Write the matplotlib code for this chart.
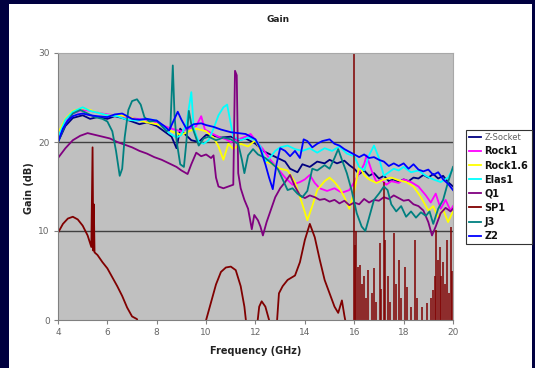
"""Gain vs frequency for eight probe/socket variants (Excel-style line chart)."""

import matplotlib
matplotlib.use("Agg")
import matplotlib.pyplot as plt
from matplotlib.patches import Rectangle

# ---- data (GHz, dB) ----
zsock_f = [4.0, 4.3, 4.6, 5.0, 5.3, 5.6, 6.0, 6.3, 6.6, 7.0, 7.3, 7.6, 8.0, 8.3, 8.6, 8.8,
           8.95, 9.1, 9.4, 9.7, 10.0, 10.3, 10.6, 11.0, 11.3, 11.6, 12.0, 12.3, 12.6, 12.9,
           13.2, 13.4, 13.7, 13.9, 14.2, 14.5, 14.8, 15.0, 15.3, 15.6, 15.8, 16.0, 16.2,
           16.4, 16.6, 16.8, 17.0, 17.2, 17.4, 17.6, 17.8, 18.0, 18.2, 18.4, 18.6, 18.8,
           19.0, 19.2, 19.4, 19.6, 19.8, 20.0]
zsock_g = [20.0, 21.8, 22.7, 23.0, 22.6, 22.8, 22.6, 22.9, 22.7, 22.3, 22.0, 22.2, 21.8, 21.2,
           20.6, 19.3, 21.5, 21.0, 20.2, 20.0, 20.8, 20.7, 20.5, 20.6, 20.2, 20.4, 19.8, 19.0,
           18.6, 18.2, 17.8, 17.0, 16.6, 17.5, 17.2, 17.8, 17.6, 18.0, 17.6, 17.9, 17.4, 17.0,
           16.4, 16.8, 16.2, 16.5, 15.9, 16.2, 15.6, 15.8, 15.5, 15.8, 15.6, 16.0, 15.9, 16.3,
           16.0, 16.4, 15.9, 16.2, 15.5, 15.0]

rock1_f = [4.0, 4.3, 4.6, 5.0, 5.3, 5.6, 6.0, 6.4, 6.8, 7.2, 7.6, 8.0, 8.3, 8.6, 9.0, 9.3,
           9.6, 9.8, 9.95, 10.2, 10.5, 10.8, 11.0, 11.3, 11.6, 11.8, 12.0, 12.3, 12.6, 12.9,
           13.2, 13.5, 13.8, 14.0, 14.2, 14.4, 14.6, 14.9, 15.2, 15.5, 15.8, 16.0, 16.2,
           16.4, 16.5, 16.7, 16.9, 17.1, 17.3, 17.5, 17.8, 18.0, 18.3, 18.6, 18.9, 19.1,
           19.3, 19.5, 19.7, 19.9, 20.0]
rock1_g = [20.5, 22.3, 23.2, 23.6, 23.5, 23.3, 23.1, 23.0, 22.8, 22.6, 22.5, 22.2, 21.8, 21.5,
           21.2, 21.5, 21.8, 22.9, 21.4, 21.0, 20.6, 20.3, 20.0, 20.3, 20.6, 20.9, 20.2, 19.2,
           18.0, 17.0, 16.0, 15.2, 15.5, 15.8, 16.3, 15.4, 14.8, 14.5, 14.8, 14.3, 14.6, 15.5,
           16.5, 17.5, 18.5, 16.8, 15.5, 15.8, 15.2, 15.6, 15.4, 15.8, 15.5, 15.0, 14.0, 13.2,
           14.2, 12.5, 13.5, 12.3, 12.8]

rock16_f = [4.0, 4.3, 4.6, 5.0, 5.3, 5.6, 6.0, 6.4, 6.8, 7.2, 7.6, 8.0, 8.3, 8.6, 9.0, 9.3,
            9.6, 10.0, 10.3, 10.5, 10.7, 10.9, 11.1, 11.4, 11.7, 12.0, 12.2, 12.4, 12.7, 13.0,
            13.3, 13.6, 13.9, 14.1, 14.3, 14.5, 14.8, 15.0, 15.2, 15.4, 15.6, 15.8, 16.0,
            16.2, 16.4, 16.6, 16.9, 17.2, 17.5, 17.8, 18.1, 18.4, 18.7, 19.0, 19.2, 19.4,
            19.6, 19.8, 20.0]
rock16_g = [21.0, 22.6, 23.5, 23.8, 23.6, 23.3, 23.0, 23.0, 22.9, 22.5, 22.2, 22.0, 21.7, 21.2,
            20.8, 21.2, 21.5, 21.2, 20.5, 19.5, 18.0, 19.8, 19.2, 19.8, 19.5, 20.2, 19.0, 17.8,
            17.5, 17.0, 16.8, 15.5, 13.0, 11.2, 12.8, 14.6, 15.6, 16.0, 15.5, 14.8, 13.8, 12.5,
            14.5, 17.3, 16.3, 15.8, 15.4, 15.8, 16.0, 15.7, 15.5, 15.0, 13.8, 12.3, 12.8, 11.5,
            12.4, 11.0, 12.2]

elas1_f = [4.0, 4.3, 4.6, 5.0, 5.3, 5.6, 6.0, 6.4, 6.8, 7.2, 7.6, 8.0, 8.3, 8.5, 8.8, 9.0,
           9.2, 9.4, 9.5, 9.7, 9.9, 10.1, 10.3, 10.5, 10.7, 10.85, 11.1, 11.4, 11.7, 12.0,
           12.2, 12.4, 12.6, 12.8, 13.0, 13.3, 13.6, 13.9, 14.2, 14.5, 14.8, 15.1, 15.4,
           15.7, 16.0, 16.2, 16.4, 16.6, 16.8, 17.0, 17.2, 17.4, 17.6, 17.8, 18.0, 18.3,
           18.6, 18.9, 19.2, 19.5, 19.8, 20.0]
elas1_g = [20.5, 22.5, 23.4, 23.9, 23.5, 23.3, 23.0, 22.9, 22.5, 22.4, 22.6, 22.4, 21.6, 21.0,
           20.5, 20.8, 22.0, 25.6, 21.5, 20.0, 19.8, 20.2, 21.5, 23.0, 23.9, 24.2, 20.6, 20.2,
           20.5, 20.2, 19.5, 17.8, 18.3, 19.0, 19.4, 19.6, 19.2, 19.0, 19.3, 18.8, 19.3, 19.0,
           19.5, 18.7, 18.4, 17.2, 16.8, 18.5, 19.6, 18.2, 16.2, 16.6, 17.0, 16.8, 17.2, 16.6,
           16.8, 16.2, 15.8, 15.5, 16.0, 17.0]

q1_f = [4.0, 4.3, 4.6, 4.9, 5.2, 5.5, 5.8, 6.1, 6.4, 6.7, 7.0, 7.3, 7.6, 7.9, 8.2, 8.5, 8.8,
        9.0, 9.25, 9.4, 9.6, 9.8, 10.0, 10.2, 10.3, 10.4, 10.5, 10.7, 10.9, 11.1, 11.17,
        11.24, 11.3, 11.4, 11.55, 11.7, 11.85, 11.95, 12.1, 12.2, 12.3, 12.45, 12.6, 12.8,
        13.0, 13.2, 13.4, 13.6, 13.8, 14.0, 14.2, 14.4, 14.6, 14.8, 15.0, 15.2, 15.4, 15.6,
        15.8, 16.0, 16.2, 16.4, 16.6, 16.8, 17.0, 17.2, 17.4, 17.6, 17.8, 18.0, 18.2, 18.4,
        18.6, 18.8, 19.0, 19.15, 19.3, 19.5, 19.7, 19.9, 20.0]
q1_g = [18.2, 19.3, 20.2, 20.7, 21.0, 20.8, 20.6, 20.4, 20.0, 19.7, 19.4, 19.0, 18.7, 18.3,
        18.0, 17.6, 17.2, 16.8, 16.4, 17.5, 18.8, 18.4, 18.6, 18.2, 18.5, 16.0, 15.0, 14.8,
        15.0, 15.2, 28.0, 27.5, 16.5, 14.8, 13.5, 12.5, 10.2, 11.8, 11.2, 10.5, 9.5, 11.0,
        12.2, 13.8, 14.8, 15.5, 16.3, 15.0, 14.0, 13.7, 14.0, 13.8, 13.5, 13.6, 13.3, 13.5,
        13.1, 13.4, 12.9, 13.2, 13.0, 13.6, 13.2, 13.5, 13.4, 13.8, 13.6, 14.0, 13.7, 13.4,
        13.5, 13.0, 12.8, 12.3, 11.0, 9.5, 10.5, 12.0, 12.6, 12.2, 12.5]

sp1_f = [4.0, 4.2, 4.4, 4.6, 4.8, 5.0, 5.2, 5.35, 5.4, 5.43, 5.45, 5.48, 5.6, 5.8, 6.0, 6.2,
         6.4, 6.6, 6.8, 7.0, 7.2, 7.3, 9.9, 10.0, 10.2, 10.4, 10.6, 10.8, 11.0, 11.2, 11.4,
         11.55, 11.65, 12.05, 12.15, 12.25, 12.4, 12.55, 12.65, 12.85, 12.95, 13.1, 13.3,
         13.6, 13.8, 14.0, 14.2, 14.4, 14.6, 14.8, 15.0, 15.2, 15.35, 15.5, 15.6, 15.7]
sp1_g = [9.8, 10.8, 11.4, 11.6, 11.3, 10.6, 9.5, 8.2, 19.4, 7.8, 13.0, 7.6, 7.3, 6.5, 5.8, 4.8,
         3.8, 2.7, 1.4, 0.4, 0.1, -1.0, -1.0, 0.0, 2.0, 4.0, 5.4, 5.9, 6.0, 5.6, 3.8,
         1.5, -1.0, -1.0, 1.5, 2.1, 1.5, 0.0, -1.0, -1.0, 3.0, 3.8, 4.5,
         5.0, 6.5, 9.0, 10.8, 9.3, 6.8, 4.5, 3.0, 1.5, 0.8, 2.2, 0.5, -1.0]
# SP1 above 16 GHz is a comb of narrow resonance spikes (peak heights)
sp1_spike_f = [16.0, 16.03, 16.08, 16.15, 16.22, 16.3, 16.4, 16.48, 16.55, 16.7, 16.8, 16.9,
               17.03, 17.1, 17.2, 17.25, 17.35, 17.45, 17.6, 17.68, 17.8, 17.9, 18.05, 18.15,
               18.3, 18.45, 18.55, 18.75, 18.95, 19.12, 19.2, 19.27, 19.33, 19.4, 19.47,
               19.53, 19.6, 19.68, 19.75, 19.82, 19.9, 19.96]
sp1_spike_g = [31.0, 8.4, 10.0, 6.0, 6.2, 4.0, 4.9, 2.5, 5.6, 3.0, 5.8, 2.0,
               8.6, 3.5, 15.5, 9.0, 4.9, 2.0, 9.8, 4.0, 6.7, 2.5, 6.0, 3.7,
               1.5, 9.0, 2.5, 1.5, 1.9, 2.5, 3.4, 5.0, 10.1, 6.7, 8.2,
               5.0, 6.5, 4.0, 9.0, 3.0, 10.5, 5.5]

j3_f = [4.0, 4.3, 4.6, 4.9, 5.2, 5.5, 5.8, 6.0, 6.2, 6.35, 6.5, 6.6, 6.7, 6.85, 7.0, 7.2,
        7.35, 7.5, 7.7, 8.0, 8.2, 8.4, 8.55, 8.65, 8.72, 8.8, 8.95, 9.1, 9.2, 9.3, 9.4,
        9.55, 9.7, 9.9, 10.1, 10.4, 10.7, 11.0, 11.3, 11.45, 11.55, 11.7, 11.9, 12.1, 12.4,
        12.7, 12.9, 13.1, 13.3, 13.5, 13.7, 13.9, 14.1, 14.3, 14.5, 14.8, 15.0, 15.2,
        15.35, 15.5, 15.7, 15.9, 16.1, 16.3, 16.45, 16.6, 16.8, 17.0, 17.2, 17.35, 17.5,
        17.7, 17.9, 18.1, 18.3, 18.5, 18.7, 18.9, 19.05, 19.2, 19.4, 19.6, 19.8, 20.0]
j3_g = [20.0, 22.0, 23.2, 23.6, 23.2, 22.8, 22.6, 22.3, 21.2, 19.0, 16.2, 17.0, 20.5, 23.6,
        24.6, 24.8, 24.2, 22.8, 22.3, 22.4, 21.8, 21.2, 21.5, 28.6, 23.0, 20.2, 17.5, 17.2,
        20.0, 23.5, 22.0, 20.8, 19.6, 20.4, 20.6, 20.2, 20.5, 20.3, 19.8, 18.0, 16.5, 18.5,
        19.2, 18.6, 18.2, 17.5, 17.0, 15.8, 14.6, 14.8, 14.2, 13.8, 14.5, 17.0, 16.8, 17.4,
        17.0, 18.2, 19.2, 18.0, 16.5, 14.5, 12.0, 10.5, 10.0, 11.5, 13.5, 14.2, 15.0, 14.6,
        13.0, 12.2, 12.8, 11.6, 12.2, 11.5, 12.1, 11.7, 12.2, 10.8, 12.5, 13.5, 15.5, 17.2]

z2_f = [4.0, 4.2, 4.4, 4.6, 4.8, 5.0, 5.3, 5.6, 6.0, 6.3, 6.6, 7.0, 7.3, 7.6, 8.0, 8.3, 8.5,
        8.7, 8.85, 9.0, 9.2, 9.5, 9.8, 10.0, 10.3, 10.6, 11.0, 11.3, 11.6, 12.0, 12.2, 12.4,
        12.55, 12.7, 12.85, 13.0, 13.2, 13.4, 13.6, 13.8, 13.95, 14.1, 14.3, 14.5, 14.7,
        15.0, 15.2, 15.4, 15.6, 15.8, 16.0, 16.2, 16.4, 16.6, 16.8, 17.0, 17.2, 17.4, 17.6,
        17.8, 18.0, 18.2, 18.4, 18.6, 18.8, 19.0, 19.2, 19.4, 19.6, 19.8, 20.0]
z2_g = [20.0, 21.5, 22.4, 22.9, 23.1, 23.2, 23.0, 22.9, 22.8, 23.1, 23.2, 22.6, 22.5, 22.6,
        22.4, 21.8, 21.3, 22.5, 23.4, 22.5, 21.5, 22.0, 22.1, 21.9, 21.7, 21.4, 21.1, 21.0,
        20.9, 20.3, 19.2, 17.5, 16.0, 14.7, 17.5, 19.3, 19.0, 18.4, 19.0, 18.2, 20.3, 20.1,
        19.4, 19.8, 20.1, 20.3, 19.8, 19.6, 19.2, 18.9, 18.6, 18.3, 18.6, 18.2, 18.3, 18.0,
        17.8, 17.3, 17.6, 17.3, 17.6, 17.0, 17.5, 16.9, 16.7, 16.9, 16.3, 16.6, 15.8, 15.3,
        14.6]

series = [
    ("Z-Socket", zsock_f, zsock_g, "#000080"),
    ("Rock1", rock1_f, rock1_g, "#ff00ff"),
    ("Rock1.6", rock16_f, rock16_g, "#ffff00"),
    ("Elas1", elas1_f, elas1_g, "#00ffff"),
    ("Q1", q1_f, q1_g, "#800080"),
    ("SP1", sp1_f, sp1_g, "#800000"),
    ("J3", j3_f, j3_g, "#008080"),
    ("Z2", z2_f, z2_g, "#0000ff"),
]

fig = plt.figure(figsize=(5.35, 3.68), dpi=100, facecolor="#000040")
# white slide panel inside the dark frame (kept behind the axes)
panel = Rectangle((9 / 535, 0.0), 523 / 535, 364 / 368, transform=fig.transFigure,
                  facecolor="white", edgecolor="none", zorder=-10)
fig.add_artist(panel)

ax = fig.add_axes([58 / 535, 1 - 320 / 368, 395 / 535, 267 / 368])
ax.set_facecolor("#c0c0c0")

for name, f, g, col in series:
    ax.plot(f, g, color=col, lw=1.3, label=name)
    if name == "SP1":
        ax.vlines(sp1_spike_f, -1, sp1_spike_g, color=col, lw=1.1)

ax.set_xlim(4, 20)
ax.set_ylim(0, 30)
ax.set_xticks(range(4, 21, 2))
ax.set_yticks([0, 10, 20, 30])
for y in (10, 20):
    ax.axhline(y, color="#404040", lw=1.0, zorder=1.5)
ax.tick_params(labelsize=6.5, colors="#808080", labelcolor="#666666", length=3, width=0.8,
               direction="out", pad=3)
for side in ("left", "bottom"):
    ax.spines[side].set_color("#808080")
for side in ("top", "right"):
    ax.spines[side].set_color("#a8a8a8")
    ax.spines[side].set_linewidth(0.8)

fig.text(278 / 535, 1 - 19 / 368, "Gain", ha="center", va="center", fontsize=6.5,
         fontweight="bold", color="#222222")
fig.text(256 / 535, 1 - 351 / 368, "Frequency (GHz)", ha="center", va="center",
         fontsize=7, fontweight="bold", color="#222222")
fig.text(29 / 535, 1 - 188 / 368, "Gain (dB)", ha="center", va="center", rotation=90,
         fontsize=7, fontweight="bold", color="#222222")

leg = fig.legend(loc="upper left", bbox_to_anchor=(466 / 535, 1 - 130 / 368), fontsize=7,
                 frameon=True, fancybox=False, edgecolor="#333333", framealpha=1,
                 handlelength=1.2, handletextpad=0.35, labelspacing=0.42, borderpad=0.35,
                 borderaxespad=0)
leg.get_frame().set_linewidth(0.8)
for i, t in enumerate(leg.get_texts()):
    if i == 0:
        t.set_fontsize(6)
        t.set_color("#606060")
    else:
        t.set_fontweight("bold")
        t.set_color("#111111")

fig.savefig("out.png", dpi=100, facecolor=fig.get_facecolor())
